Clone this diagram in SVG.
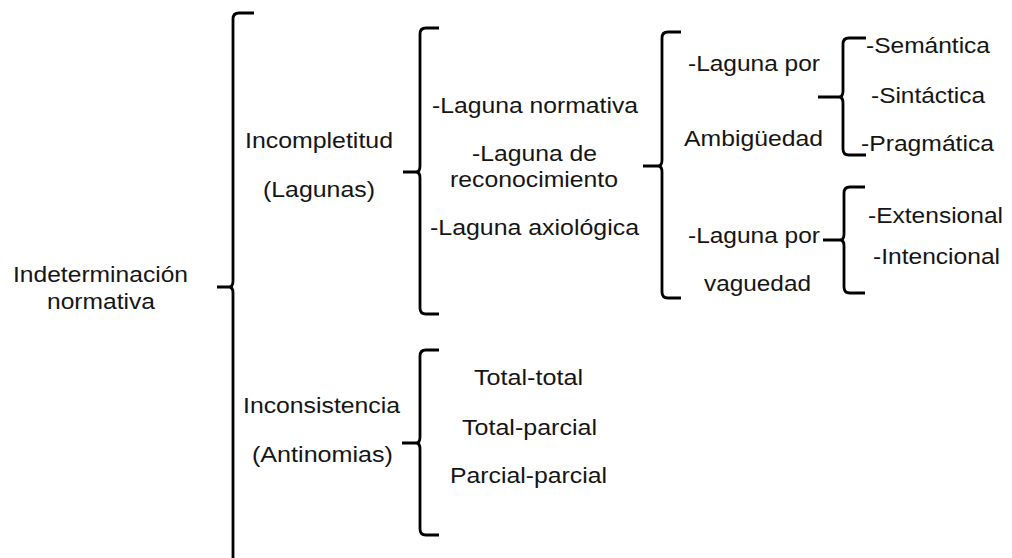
<svg xmlns="http://www.w3.org/2000/svg" width="1012" height="558" viewBox="0 0 1012 558">
<style>
text{font-family:"Liberation Sans",Arial,sans-serif;font-size:21.5px;fill:#151515}
.br{fill:none;stroke:#000;stroke-width:2.8;stroke-linecap:butt;stroke-linejoin:round}
</style>
<rect width="1012" height="558" fill="#fff"/>
<g id="connectors">
<path class="br" d="M254 13 H239 Q233 13 233 19 V281 Q233 287 229 287 M229 287 H217 M229 287 Q233 287 233 293 V560"/>
<path class="br" d="M439 28 H426 Q420 28 420 34 V166 Q420 172 416 172 H403 M416 172 Q420 172 420 178 V308 Q420 314 426 314 H439"/>
<path class="br" d="M681 32 H668 Q662 32 662 38 V160 Q662 166 658 166 H643 M658 166 Q662 166 662 172 V292 Q662 298 668 298 H681"/>
<path class="br" d="M866 38 H849 Q843 38 843 44 V91 Q843 97 839 97 H818 M839 97 Q843 97 843 103 V149 Q843 155 849 155 H866"/>
<path class="br" d="M865 187 H850 Q844 187 844 193 V234 Q844 240 840 240 H823 M840 240 Q844 240 844 246 V287 Q844 293 850 293 H865"/>
<path class="br" d="M439 350 H426 Q420 350 420 356 V437 Q420 443 416 443 H402 M416 443 Q420 443 420 449 V529 Q420 535 426 535 H439"/>
</g>
<g id="root"><text x="13" y="282" textLength="175" lengthAdjust="spacingAndGlyphs">Indeterminación</text><text x="47" y="309" textLength="108" lengthAdjust="spacingAndGlyphs">normativa</text></g>
<g id="incompletitud"><text x="245" y="148" textLength="148" lengthAdjust="spacingAndGlyphs">Incompletitud</text><text x="263" y="197" textLength="112" lengthAdjust="spacingAndGlyphs">(Lagunas)</text></g>
<g id="inconsistencia"><text x="243" y="413" textLength="157" lengthAdjust="spacingAndGlyphs">Inconsistencia</text><text x="252" y="462" textLength="141" lengthAdjust="spacingAndGlyphs">(Antinomias)</text></g>
<g id="lagunas"><text x="432" y="113" textLength="206" lengthAdjust="spacingAndGlyphs">-Laguna normativa</text><text x="472" y="161" textLength="125" lengthAdjust="spacingAndGlyphs">-Laguna de</text><text x="450" y="187" textLength="168" lengthAdjust="spacingAndGlyphs">reconocimiento</text><text x="430" y="235" textLength="209" lengthAdjust="spacingAndGlyphs">-Laguna axiológica</text></g>
<g id="ambiguedad"><text x="688" y="71" textLength="132" lengthAdjust="spacingAndGlyphs">-Laguna por</text><text x="684" y="146" textLength="139" lengthAdjust="spacingAndGlyphs">Ambigüedad</text></g>
<g id="vaguedad"><text x="688" y="243" textLength="132" lengthAdjust="spacingAndGlyphs">-Laguna por</text><text x="704" y="291" textLength="107" lengthAdjust="spacingAndGlyphs">vaguedad</text></g>
<g id="tipos-ambiguedad"><text x="866" y="53" textLength="124" lengthAdjust="spacingAndGlyphs">-Semántica</text><text x="871" y="103" textLength="114" lengthAdjust="spacingAndGlyphs">-Sintáctica</text><text x="861" y="151" textLength="133" lengthAdjust="spacingAndGlyphs">-Pragmática</text></g>
<g id="tipos-vaguedad"><text x="868" y="223" textLength="135" lengthAdjust="spacingAndGlyphs">-Extensional</text><text x="873" y="264" textLength="127" lengthAdjust="spacingAndGlyphs">-Intencional</text></g>
<g id="antinomias"><text x="474" y="385" textLength="109" lengthAdjust="spacingAndGlyphs">Total-total</text><text x="462" y="435" textLength="135" lengthAdjust="spacingAndGlyphs">Total-parcial</text><text x="450" y="483" textLength="157" lengthAdjust="spacingAndGlyphs">Parcial-parcial</text></g>
</svg>
